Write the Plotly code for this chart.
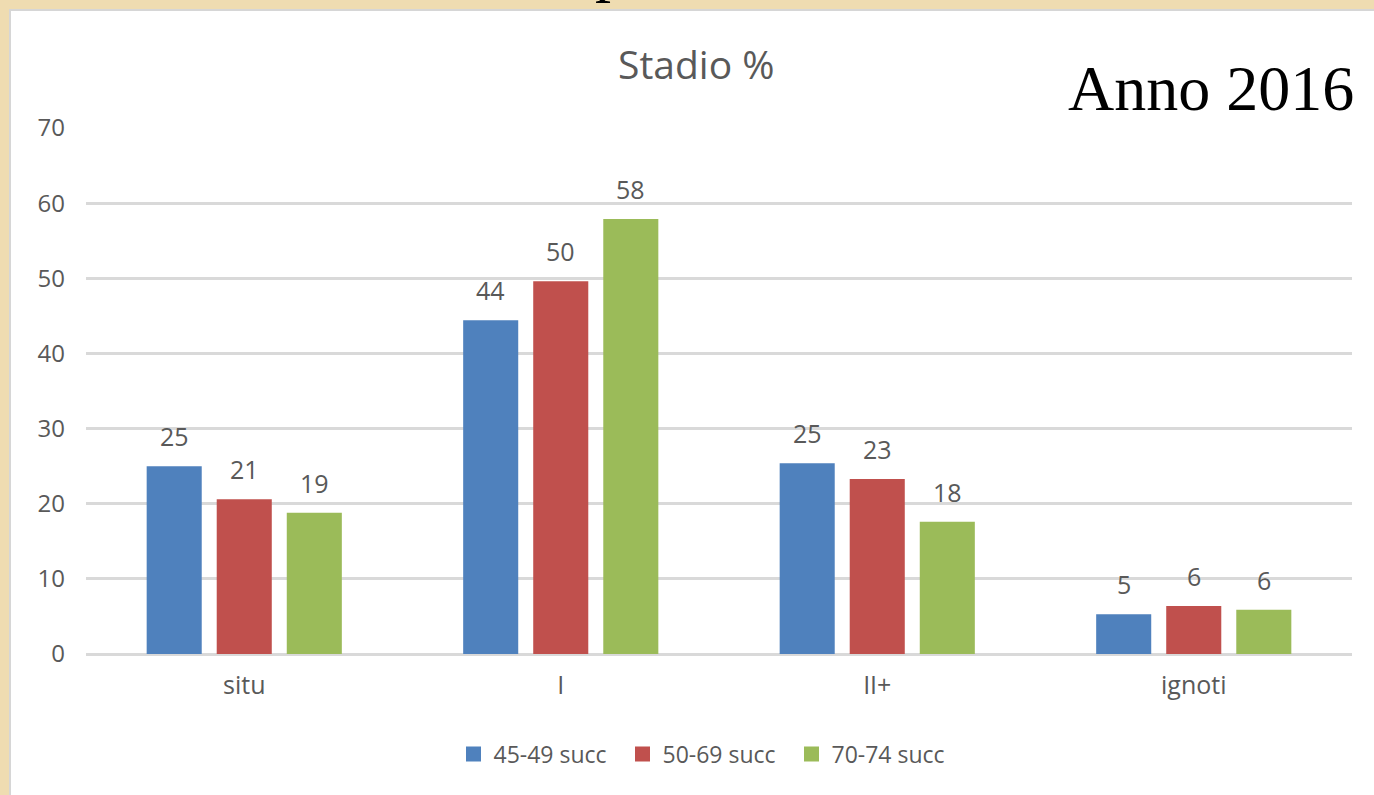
import plotly.graph_objects as go

categories = ["situ", "I", "II+", "ignoti"]
series_names = ["45-49 succ", "50-69 succ", "70-74 succ"]
v_45_49 = [25.0, 44.4, 25.4, 5.3]
v_50_69 = [20.6, 49.6, 23.3, 6.4]
v_70_74 = [18.8, 57.9, 17.6, 5.9]
colors = ["#4f81bd", "#c0504d", "#9bbb59"]
series_values = [v_45_49, v_50_69, v_70_74]

W, H = 1374, 795
L, R, T, B = 86, 22, 128, 141
PW, PH = W - L - R, H - T - B
BARGAP = 0.336
GROUPGAP = 0.214
GRAY = "#595959"
FONT = "Open Sans"

def fx(px):
    return (px - L) / PW

def fy(py):
    return (H - B - py) / PH

fig = go.Figure()
for name, vals, col in zip(series_names, series_values, colors):
    fig.add_trace(go.Bar(x=categories, y=vals, name=name, marker_color=col,
                         marker_line_width=0, showlegend=False, hoverinfo="skip"))
    # legend proxy
    fig.add_trace(go.Scatter(x=[None], y=[None], mode="markers", name=name,
                             marker=dict(symbol="square", size=15, color=col)))

slot = (1 - BARGAP) / 3
annotations = []
for j, vals in enumerate(series_values):
    for i, v in enumerate(vals):
        annotations.append(dict(x=i + (j - 1) * slot, y=v, xref="x", yref="y",
                                text=f"{round(v):d}", showarrow=False,
                                yanchor="middle", yshift=30,
                                font=dict(family=FONT, size=25, color=GRAY)))

annotations.append(dict(x=fx(696), y=fy(63), xref="paper", yref="paper",
                        text="Stadio %", showarrow=False, xanchor="center", yanchor="middle",
                        font=dict(family=FONT, size=39, color=GRAY)))
annotations.append(dict(x=fx(1356), y=fy(88), xref="paper", yref="paper",
                        text="Anno 2016", showarrow=False, xanchor="right", yanchor="middle",
                        font=dict(family="Liberation Serif", size=64, color="black")))
# fragment of a cut-off heading above the chart (only its descender shows)
annotations.append(dict(x=fx(593), y=fy(0), xref="paper", yref="paper",
                        text="p", showarrow=False, xanchor="left", yanchor="top", yshift=70,
                        font=dict(family="Liberation Serif", size=64, color="black")))

shapes = [
    dict(type="rect", xref="paper", yref="paper", x0=fx(0), x1=fx(W), y0=fy(9), y1=fy(0),
         fillcolor="#efdcb1", line_width=0, layer="below"),
    dict(type="rect", xref="paper", yref="paper", x0=fx(0), x1=fx(9), y0=fy(H), y1=fy(0),
         fillcolor="#efdcb1", line_width=0, layer="below"),
    dict(type="line", xref="paper", yref="paper", x0=fx(9), x1=fx(W), y0=fy(10), y1=fy(10),
         line=dict(color="#d6d6d6", width=2), layer="below"),
    dict(type="line", xref="paper", yref="paper", x0=fx(10), x1=fx(10), y0=fy(H), y1=fy(9),
         line=dict(color="#d6d6d6", width=2), layer="below"),
]

fig.update_layout(
    width=W, height=H,
    margin=dict(l=L, r=R, t=T, b=B, pad=0),
    paper_bgcolor="white", plot_bgcolor="white",
    barmode="group", bargap=BARGAP, bargroupgap=GROUPGAP,
    font=dict(family=FONT, color=GRAY),
    annotations=annotations, shapes=shapes,
    legend=dict(orientation="h", x=fx(707), y=fy(754), xanchor="center", yanchor="middle",
                entrywidth=124, entrywidthmode="pixels",
                font=dict(family=FONT, size=23, color=GRAY), bgcolor="rgba(0,0,0,0)"),
    xaxis=dict(type="category", showgrid=False, showline=False, ticks="",
               tickfont=dict(family=FONT, size=25, color=GRAY), ticklabelstandoff=14,
               fixedrange=True),
    yaxis=dict(range=[0, 70], dtick=10, showgrid=True, gridcolor="#d9d9d9", gridwidth=2.5,
               zeroline=True, zerolinecolor="#d9d9d9", zerolinewidth=2.5, showline=False,
               ticks="", tickfont=dict(family=FONT, size=24, color=GRAY),
               ticklabelstandoff=20, fixedrange=True),
)

fig.write_html("out.html")
